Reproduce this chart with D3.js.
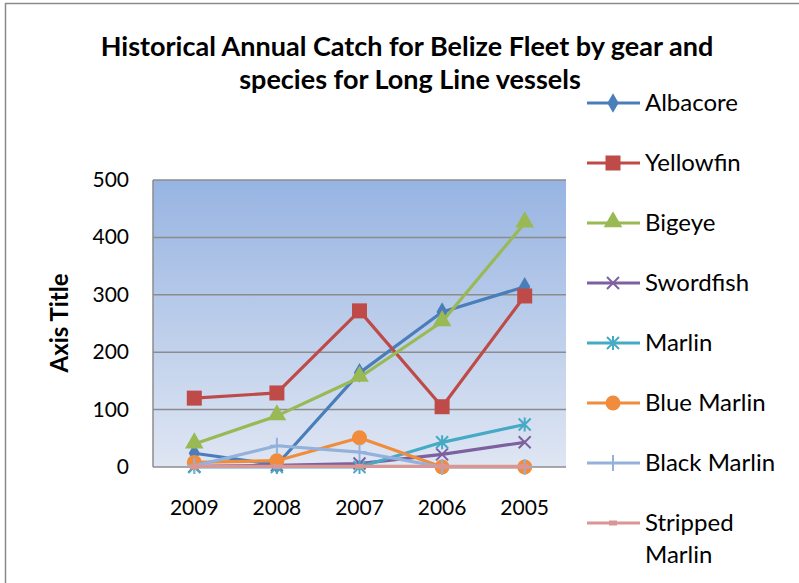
<!DOCTYPE html>
<html>
  <head>
    <meta charset="utf-8">
    <title>Belize Long Line catch</title>
    <style>
      body { margin: 0; background: #fff; }
      text { font-family: Lato, "Open Sans", sans-serif; }
    </style>
  </head>
  <body>
    <script src="https://d3js.org/d3.v7.min.js"></script>
    <script type="text/javascript">
      var years = ['2009', '2008', '2007', '2006', '2005'];
      var yTicks = [0, 100, 200, 300, 400, 500];
      var seriesNames = ['Albacore', 'Yellowfin', 'Bigeye', 'Swordfish', 'Marlin', 'Blue Marlin', 'Black Marlin', 'Stripped Marlin'];
      var albacore = [24, 4, 164, 270, 314];
      var yellowfin = [120, 129, 272, 105, 298];
      var bigeye = [40, 89, 156, 253, 425];
      var swordfish = [1, 3, 6, 22, 43];
      var marlin = [0, 0, 0, 43, 74];
      var blueMarlin = [8, 11, 51, 0, 0];
      var blackMarlin = [2, 37, 26, 0, 0];
      var strippedMarlin = [1, 1, 1, 1, 1];
      var allValues = [albacore, yellowfin, bigeye, swordfish, marlin, blueMarlin, blackMarlin, strippedMarlin];

      var colors = ['#4A7EBB', '#BE4B48', '#98B954', '#7D60A0', '#46AAC5', '#F08C3C', '#93B1DA', '#D99694'];
      var markers = ['diamond', 'square', 'triangle', 'x', 'star', 'circle', 'plus', 'dash'];

      var w = 799, h = 583;
      var pLeft = 153, pRight = 566, pTop = 180, pBottom = 467;

      var svg = d3.select('body').append('svg').attr('width', w).attr('height', h);

      // chart border
      svg.append('rect').attr('x', 5.5).attr('y', 3.5).attr('width', 820).attr('height', 620)
        .attr('fill', '#fff').attr('stroke', '#8a8a8a').attr('stroke-width', 1.5);

      var grad = svg.append('defs').append('linearGradient').attr('id', 'bg')
        .attr('x1', 0).attr('y1', 0).attr('x2', 0).attr('y2', 1);
      grad.append('stop').attr('offset', '0%').attr('stop-color', '#97B4E2');
      grad.append('stop').attr('offset', '100%').attr('stop-color', '#DFE6F3');

      var x = d3.scaleBand().domain(years).range([pLeft, pRight]);
      var y = d3.scaleLinear().domain([0, 500]).range([pBottom, pTop]);

      svg.append('rect').attr('x', pLeft).attr('y', pTop).attr('width', pRight - pLeft).attr('height', pBottom - pTop)
        .attr('fill', 'url(#bg)');

      // gridlines
      svg.selectAll('.grid').data(yTicks).enter().append('line')
        .attr('x1', pLeft).attr('x2', pRight)
        .attr('y1', function(d) { return y(d); }).attr('y2', function(d) { return y(d); })
        .attr('stroke', '#8c8c8c').attr('stroke-width', 1.5);
      svg.append('line').attr('x1', pLeft).attr('x2', pLeft).attr('y1', pTop).attr('y2', pBottom)
        .attr('stroke', '#8c8c8c').attr('stroke-width', 1.5);

      // y tick labels
      svg.selectAll('.ylab').data(yTicks).enter().append('text')
        .attr('x', pLeft - 24).attr('y', function(d) { return y(d) + 7; })
        .attr('text-anchor', 'end').attr('font-size', '21px').attr('fill', '#000')
        .text(function(d) { return d; });

      // x labels
      svg.selectAll('.xlab').data(years).enter().append('text')
        .attr('x', function(d) { return x(d) + x.bandwidth() / 2; }).attr('y', 515)
        .attr('text-anchor', 'middle').attr('font-size', '21px').attr('fill', '#000')
        .text(function(d) { return d; });

      // titles
      svg.append('text').attr('x', 407).attr('y', 56).attr('text-anchor', 'middle')
        .attr('font-size', '27px').attr('font-weight', 'bold').text('Historical Annual Catch for Belize Fleet by gear and');
      svg.append('text').attr('x', 410).attr('y', 89).attr('text-anchor', 'middle')
        .attr('font-size', '27px').attr('font-weight', 'bold').text('species for Long Line vessels');
      svg.append('text').attr('transform', 'translate(68,323) rotate(-90)').attr('text-anchor', 'middle')
        .attr('font-size', '24px').attr('font-weight', 'bold').text('Axis Title');

      function drawMarker(g, type, cx, cy, color) {
        if (type === 'diamond') {
          g.append('path').attr('d', d3.symbol().type(d3.symbolDiamond).size(110)())
            .attr('transform', 'translate(' + cx + ',' + cy + ')').attr('fill', color);
        } else if (type === 'square') {
          g.append('rect').attr('x', cx - 7.5).attr('y', cy - 7.5).attr('width', 15).attr('height', 15).attr('fill', color);
        } else if (type === 'triangle') {
          g.append('path').attr('d', d3.symbol().type(d3.symbolTriangle).size(150)())
            .attr('transform', 'translate(' + cx + ',' + (cy - 1) + ')').attr('fill', color);
        } else if (type === 'x') {
          g.append('path').attr('d', 'M-6,-6L6,6M-6,6L6,-6')
            .attr('transform', 'translate(' + cx + ',' + cy + ')').attr('stroke', color).attr('stroke-width', 2);
        } else if (type === 'star') {
          g.append('path').attr('d', 'M-6,-6L6,6M-6,6L6,-6M0,-7L0,7')
            .attr('transform', 'translate(' + cx + ',' + cy + ')').attr('stroke', color).attr('stroke-width', 2);
        } else if (type === 'circle') {
          g.append('circle').attr('cx', cx).attr('cy', cy).attr('r', 7.5).attr('fill', color);
        } else if (type === 'plus') {
          g.append('path').attr('d', 'M-7,0L7,0M0,-8L0,8')
            .attr('transform', 'translate(' + cx + ',' + cy + ')').attr('stroke', color).attr('stroke-width', 2);
        } else if (type === 'dash') {
          g.append('rect').attr('x', cx - 4).attr('y', cy - 2.5).attr('width', 8).attr('height', 5).attr('fill', color);
        }
      }

      var line = d3.line()
        .x(function(d, i) { return x(years[i]) + x.bandwidth() / 2; })
        .y(function(d) { return y(d); });

      allValues.forEach(function(vals, s) {
        var g = svg.append('g');
        g.append('path').datum(vals).attr('d', line).attr('fill', 'none')
          .attr('stroke', colors[s]).attr('stroke-width', 3.2).attr('stroke-linejoin', 'round');
        vals.forEach(function(v, i) {
          drawMarker(g, markers[s], x(years[i]) + x.bandwidth() / 2, y(v), colors[s]);
        });
      });

      // legend
      seriesNames.forEach(function(name, s) {
        var ly = 103 + s * 60;
        var g = svg.append('g');
        g.append('line').attr('x1', 587).attr('x2', 640).attr('y1', ly).attr('y2', ly)
          .attr('stroke', colors[s]).attr('stroke-width', 3);
        drawMarker(g, markers[s], 613, ly, colors[s]);
        var t = g.append('text').attr('x', 645).attr('y', ly + 8).attr('font-size', '24px');
        if (name === 'Stripped Marlin') {
          t.append('tspan').attr('x', 645).text('Stripped');
          t.append('tspan').attr('x', 645).attr('dy', 32).text('Marlin');
        } else {
          t.text(name);
        }
      });
    </script>
  </body>
</html>
